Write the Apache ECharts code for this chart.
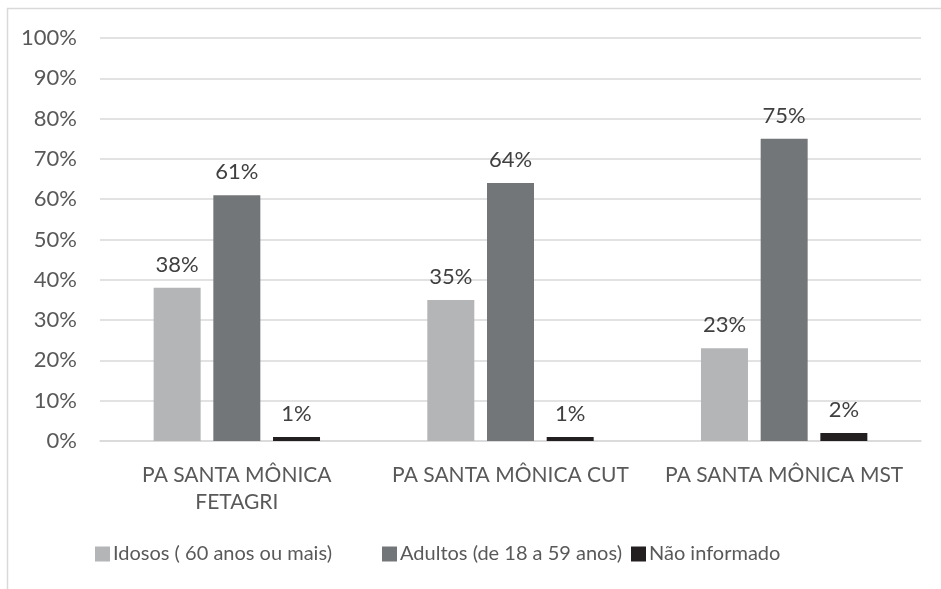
<!DOCTYPE html>
<html>
<head>
<meta charset="utf-8">
<script src="https://cdn.jsdelivr.net/npm/echarts@6/dist/echarts.min.js"></script>
<style>
  html, body { margin: 0; padding: 0; background: #fff; }
  #chart { width: 941px; height: 589px; }
</style>
</head>
<body>
<div id="chart"></div>
<script>
// Faixa etária por assentamento
const categories = ['PA SANTA MÔNICA\nFETAGRI', 'PA SANTA MÔNICA CUT', 'PA SANTA MÔNICA MST'];
const seriesNames = ['Idosos ( 60 anos ou mais)', 'Adultos (de 18 a 59 anos)', 'Não informado'];
const idosos = [38, 35, 23];
const adultos = [61, 64, 75];
const naoInformado = [1, 1, 2];
const yTicks = [0, 10, 20, 30, 40, 50, 60, 70, 80, 90, 100];

const FONT = 'Lato';
const colors = ['#b3b5b6', '#737679', '#231f20'];
const legendLeft = [95, 382, 631];

const chart = echarts.init(document.getElementById('chart'), null, { renderer: 'canvas' });

function barSeries(name, data, color) {
  return {
    name: name,
    type: 'bar',
    data: data,
    barWidth: 47,
    barGap: '27%',
    itemStyle: { color: color },
    label: {
      show: true,
      position: 'top',
      distance: 12,
      formatter: p => p.value + '%',
      color: '#404040',
      fontFamily: FONT,
      fontSize: 22
    }
  };
}

chart.setOption({
  animation: false,
  backgroundColor: '#ffffff',
  graphic: [{
    type: 'rect',
    shape: { x: 7.5, y: 8.5, width: 960, height: 620 },
    style: { fill: 'none', stroke: '#d9d9d9', lineWidth: 1.5 },
    silent: true,
    z: -1
  }],
  grid: { left: 100, right: 20, top: 38, bottom: 148 },
  legend: seriesNames.map((name, i) => ({
    data: [name],
    top: 544,
    left: legendLeft[i],
    padding: 0,
    itemWidth: 15,
    itemHeight: 15,
    icon: 'rect',
    textStyle: { color: '#595959', fontFamily: FONT, fontSize: 20, padding: [0, 0, 0, -2] }
  })),
  xAxis: {
    type: 'category',
    data: categories,
    axisLine: { show: true, lineStyle: { color: '#d9d9d9', width: 1.5 } },
    axisTick: { show: false },
    axisLabel: {
      color: '#595959',
      fontFamily: FONT,
      fontSize: 21,
      margin: 21,
      lineHeight: 27,
      interval: 0
    }
  },
  yAxis: {
    type: 'value',
    min: 0,
    max: 100,
    interval: 10,
    axisLine: { show: false },
    axisTick: { show: false },
    splitLine: { lineStyle: { color: '#d9d9d9', width: 1.5 } },
    axisLabel: {
      color: '#595959',
      fontFamily: FONT,
      fontSize: 22,
      margin: 23,
      formatter: v => (yTicks.indexOf(v) >= 0 ? v + '%' : '')
    }
  },
  series: [
    barSeries(seriesNames[0], idosos, colors[0]),
    barSeries(seriesNames[1], adultos, colors[1]),
    barSeries(seriesNames[2], naoInformado, colors[2])
  ]
});
</script>
</body>
</html>
